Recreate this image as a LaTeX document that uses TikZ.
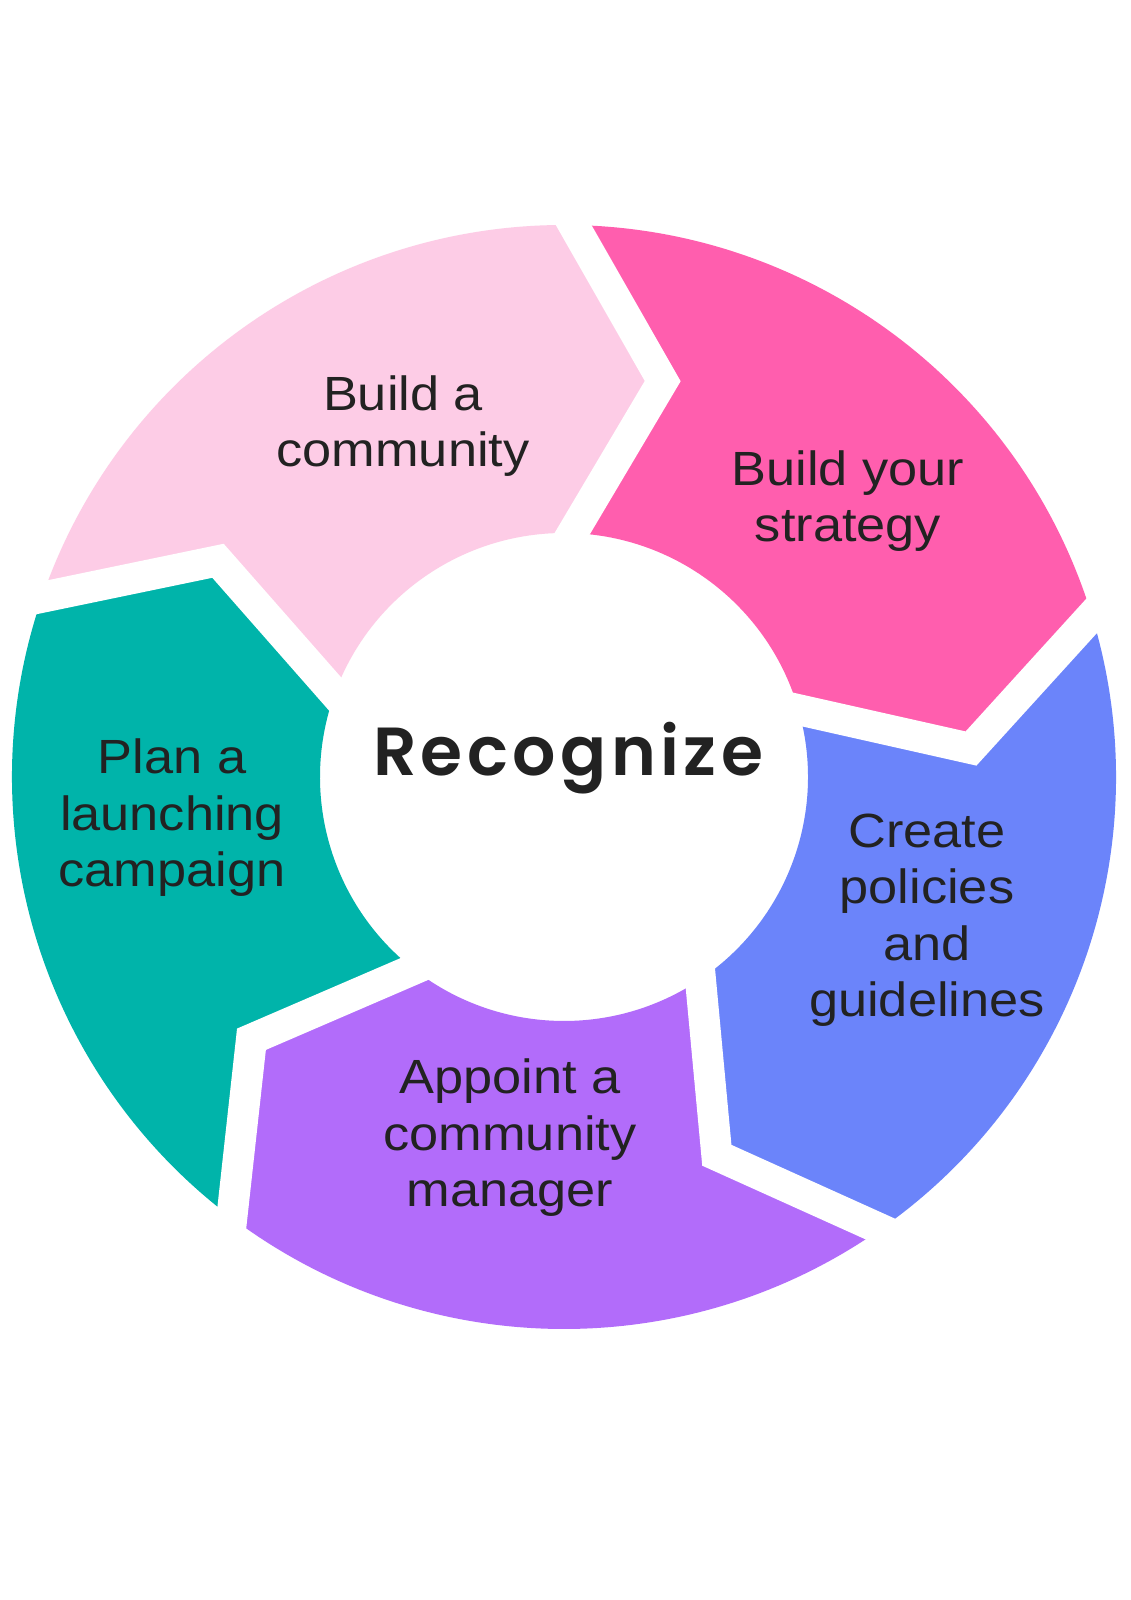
\documentclass[tikz,border=0pt]{standalone}
\usepackage{fontspec}
\setmainfont{Liberation Sans}[FakeStretch=1.09]
\newfontfamily\popfont{Poppins}[UprightFont=* SemiBold, LetterSpace=6.5]
\usetikzlibrary{calc}
\definecolor{cpinkl}{HTML}{FDCCE6}
\definecolor{cpink}{HTML}{FF5EAE}
\definecolor{cblue}{HTML}{6B84FA}
\definecolor{cpurple}{HTML}{B26CFA}
\definecolor{cteal}{HTML}{00B4AA}
\definecolor{ctext}{HTML}{222222}
\newcommand\ringseg[3]{%
  \fill[#1] ($(O)+(#2:\Ro)$) arc[start angle=#2, end angle=#3, radius=\Ro]
    -- ($(O)+(#3-13:\Rt)$) -- ($(O)+(#3-1:\Ri)$)
    arc[start angle=#3-1, end angle=#2-1, radius=\Ri]
    -- ($(O)+(#2-13:\Rt)$) -- cycle;}
\newcommand\ringgap[1]{%
  \coordinate (go) at ($(O)+(#1:\Ro)$);
  \coordinate (gt) at ($(O)+(#1-13:\Rt)$);
  \coordinate (gi) at ($(O)+(#1-1:\Ri)$);
  \draw[gapline] ($(gt)!1.25!(go)$) -- (gt) -- ($(gt)!1.35!(gi)$);}
\begin{document}
\begin{tikzpicture}[x=1pt,y=1pt,
  gapline/.style={draw=white, line width=31pt, line join=miter, line cap=butt},
  label/.style={align=center, anchor=base, inner sep=0pt, text=ctext,
    font=\fontsize{48}{56.5}\selectfont},
  title/.style={anchor=base, inner sep=0pt, text=ctext,
    font=\popfont\fontsize{68}{72}\selectfont}]
\useasboundingbox[fill=white] (0,0) rectangle (1131,1600);
\coordinate (O) at (564,823);
\def\Ro{552}\def\Ri{244}\def\Rt{408}
\ringseg{cpinkl}{161}{89}
\ringseg{cpink}{89}{17}
\ringseg{cblue}{17}{-55}
\ringseg{cpurple}{-55}{-127}
\ringseg{cteal}{-127}{-199}
\ringgap{161}
\ringgap{89}
\ringgap{17}
\ringgap{-55}
\ringgap{-127}
\node[label] (community) at (403,1133.3) {Build a\\community};
\node[label] (strategy) at (848,1058.3) {Build your\\strategy};
\node[label] (policies) at (927,583.3) {Create\\policies\\and\\guidelines};
\node[label] (manager) at (510,393.3) {Appoint a\\community\\manager};
\node[label] (campaign) at (172,713.3) {Plan a\\launching\\campaign};
\node[title] (recognize) at (568,824) {Recognize};
\end{tikzpicture}
\end{document}
